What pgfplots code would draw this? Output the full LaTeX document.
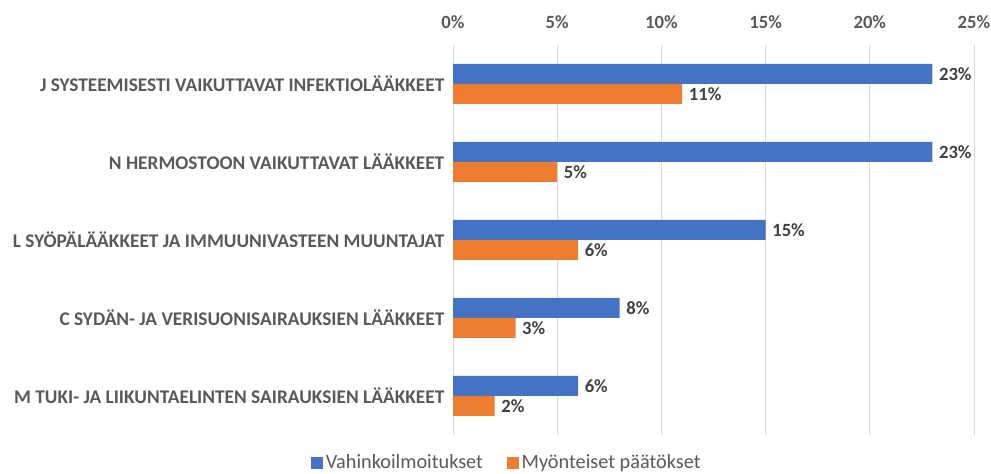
\documentclass[border=0pt]{standalone}
\usepackage{pgfplots}
\pgfplotsset{compat=1.18}
\usepackage{fontspec}
\setmainfont{Carlito}
\definecolor{cblue}{HTML}{4472C4}
\definecolor{corange}{HTML}{ED7D31}
\definecolor{ctext}{HTML}{595959}
\definecolor{clab}{HTML}{404040}
\definecolor{cgrid}{HTML}{D9D9D9}
\begin{document}
\begin{tikzpicture}
\path[use as bounding box] (0,0) rectangle (743.25pt,355.5pt);
\begin{axis}[
  at={(339.75pt,29.25pt)}, anchor=south west,
  scale only axis, width=390.75pt, height=292.5pt,
  xmin=0, xmax=25, ymin=-0.5, ymax=4.5,
  xtick={0,5,...,25},
  xticklabel={\pgfmathprintnumber{\tick}\%},
  xticklabel pos=right,
  /pgf/number format/assume math mode=true,
  xticklabel style={font=\fontsize{14}{16}\selectfont\bfseries, text=ctext, yshift=9pt},
  ytick={0,1,2,3,4},
  yticklabels={M TUKI- JA LIIKUNTAELINTEN SAIRAUKSIEN LÄÄKKEET, C SYDÄN- JA VERISUONISAIRAUKSIEN LÄÄKKEET, L SYÖPÄLÄÄKKEET JA IMMUUNIVASTEEN MUUNTAJAT, N HERMOSTOON VAIKUTTAVAT LÄÄKKEET, J SYSTEEMISESTI VAIKUTTAVAT INFEKTIOLÄÄKKEET},
  yticklabel style={font=\fontsize{14.5}{16}\selectfont\bfseries, text=ctext, xshift=-3pt},
  major tick length=0pt,
  xmajorgrids, grid style={cgrid, line width=0.75pt},
  axis line style={draw=none},
  xbar, bar width=15pt,
  clip=false,
  nodes near coords={\pgfmathprintnumber{\pgfplotspointmeta}\%},
  nodes near coords style={font=\fontsize{14}{16}\selectfont\bfseries, text=clab, anchor=west, xshift=1.5pt},
  point meta=explicit symbolic,
  legend style={at={(0.104,-0.071)}, anchor=center, draw=none, fill=none,
    font=\fontsize{15.2}{17}\selectfont, text=ctext, legend columns=2,
    /tikz/every odd column/.append style={column sep=0pt},
    /tikz/every even column/.append style={column sep=16pt},
    nodes={inner xsep=2pt, inner ysep=1pt}},
  legend image code/.code={\fill[#1] (0pt,-4.5pt) rectangle (9pt,4.5pt);},
]
\addplot[fill=cblue, draw=none, bar shift=7.5pt] coordinates {
  (23,4) [23] (23,3) [23] (15,2) [15] (8,1) [8] (6,0) [6]};
\addlegendentry{Vahinkoilmoitukset}
\addplot[fill=corange, draw=none, bar shift=-7.5pt] coordinates {
  (11,4) [11] (5,3) [5] (6,2) [6] (3,1) [3] (2,0) [2]};
\addlegendentry{Myönteiset päätökset}
\end{axis}
\end{tikzpicture}
\end{document}
